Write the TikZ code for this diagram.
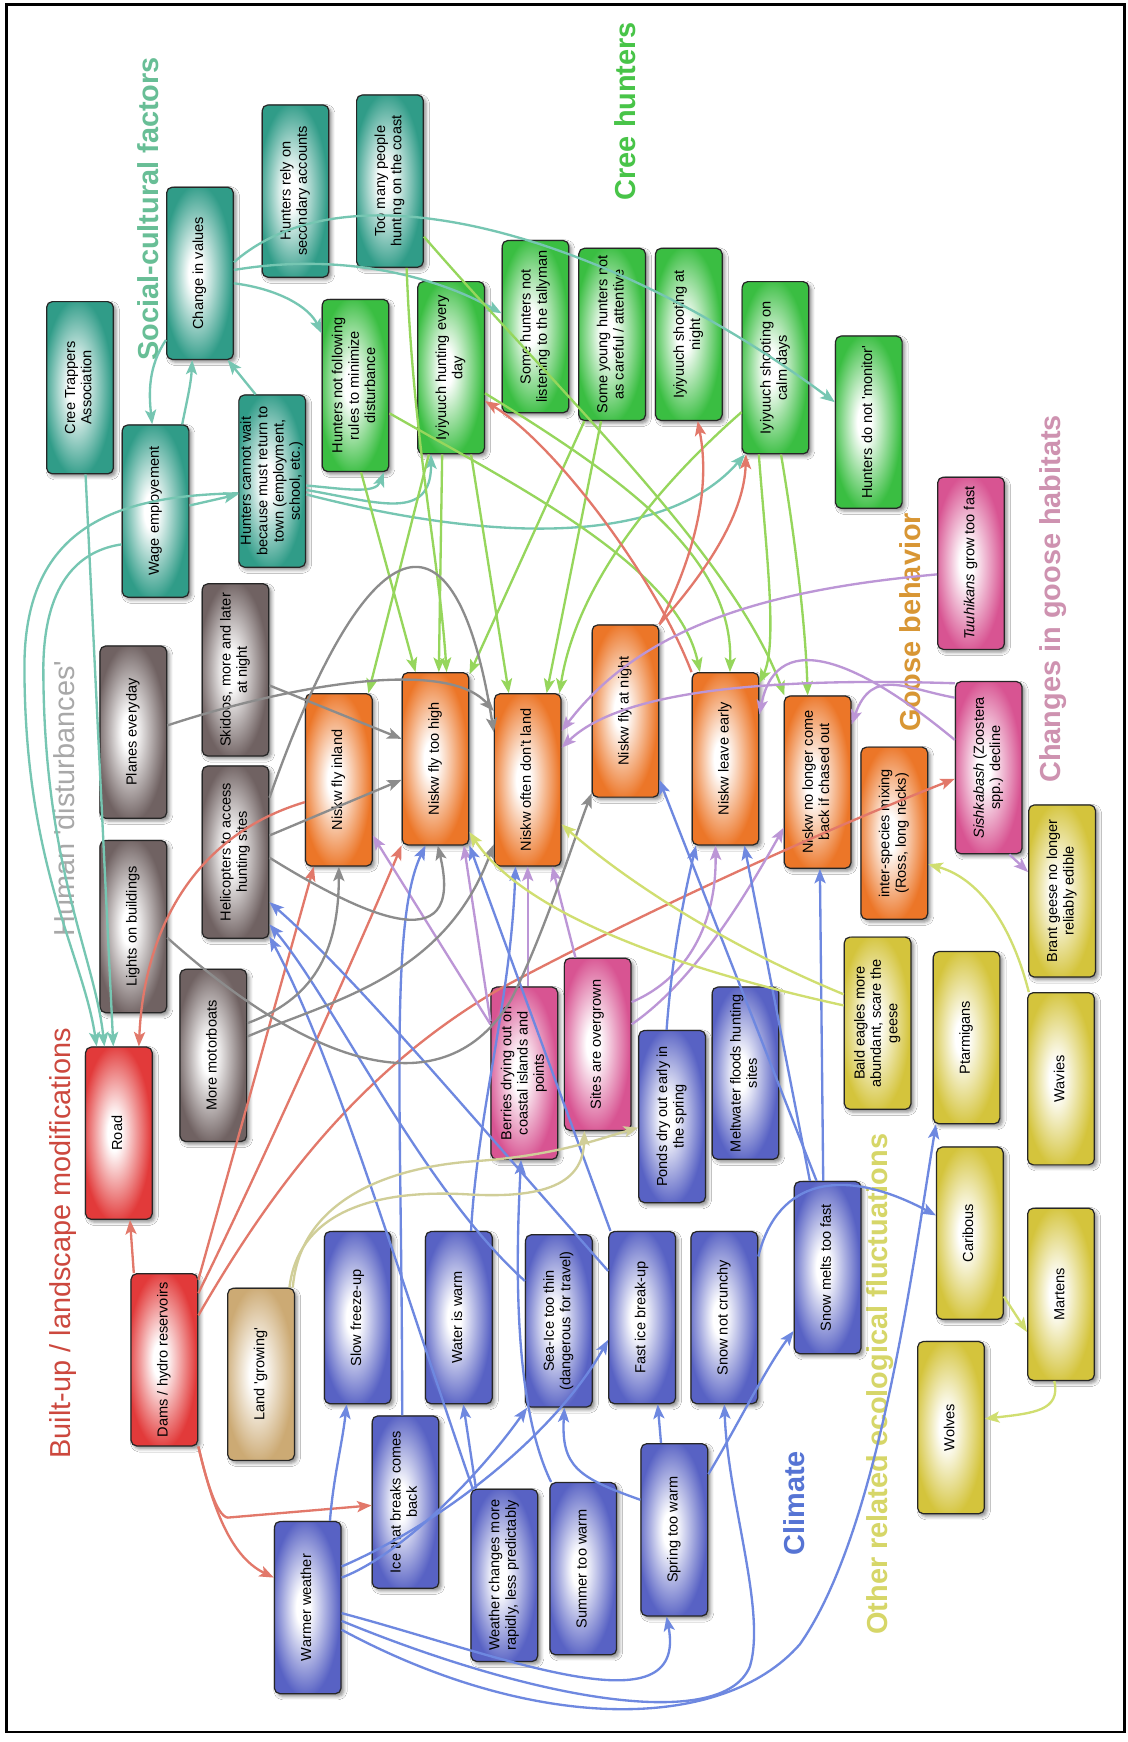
\documentclass[tikz,border=0pt]{standalone}
\usepackage{fontspec}
\setmainfont{Liberation Sans}
\usepackage{graphicx}
\usetikzlibrary{arrows.meta,calc,shadows.blur}

% box fill colours
\definecolor{cTeal}{RGB}{48,156,136}
\definecolor{cGreen}{RGB}{58,190,66}
\definecolor{cGray}{RGB}{112,98,98}
\definecolor{cOrange}{RGB}{236,118,40}
\definecolor{cPink}{RGB}{216,84,146}
\definecolor{cYellow}{RGB}{212,196,60}
\definecolor{cBlue}{RGB}{88,98,196}
\definecolor{cRed}{RGB}{226,58,58}
\definecolor{cTan}{RGB}{204,170,116}
% connector colours
\definecolor{eTeal}{RGB}{118,198,178}
\definecolor{eGreen}{RGB}{150,214,92}
\definecolor{eGray}{RGB}{140,140,140}
\definecolor{eRed}{RGB}{226,120,106}
\definecolor{eBlue}{RGB}{110,136,224}
\definecolor{ePurple}{RGB}{188,150,214}
\definecolor{eYellow}{RGB}{208,222,112}
\definecolor{eTan}{RGB}{208,206,152}
% heading colours
\definecolor{hSoc}{RGB}{104,190,150}
\definecolor{hCree}{RGB}{72,196,72}
\definecolor{hHum}{RGB}{168,168,168}
\definecolor{hBuilt}{RGB}{204,72,62}
\definecolor{hGoose}{RGB}{216,150,52}
\definecolor{hHab}{RGB}{206,146,176}
\definecolor{hClim}{RGB}{86,116,212}
\definecolor{hOther}{RGB}{214,214,104}

\newcommand{\mkshade}[2]{\pgfdeclareradialshading{#1}{\pgfpoint{-4bp}{0bp}}{color(0bp)=(white); color(5bp)=(white); color(26bp)=(#2); color(50bp)=(#2)}}
\mkshade{shTeal}{cTeal}
\mkshade{shGreen}{cGreen}
\mkshade{shGray}{cGray}
\mkshade{shOrange}{cOrange}
\mkshade{shPink}{cPink}
\mkshade{shYellow}{cYellow}
\mkshade{shBlue}{cBlue}
\mkshade{shRed}{cRed}
\mkshade{shTan}{cTan}

\newcommand{\vtxt}[1]{\rotatebox{90}{\begin{tabular}{@{}c@{}}#1\end{tabular}}}
\newcommand{\sq}{\textquotesingle}

\tikzset{
  gbox/.style={draw=black!85, line width=1.1pt, rounded corners=5pt,
    minimum width=60pt, minimum height=155pt, inner sep=0pt,
    font=\fontsize{13.1}{14.7}\selectfont,
    blur shadow={shadow xshift=2.5pt, shadow yshift=-2.5pt, shadow blur radius=3pt, shadow opacity=45}},
  tealbox/.style={gbox, shading=shTeal},
  greenbox/.style={gbox, shading=shGreen},
  graybox/.style={gbox, shading=shGray},
  orangebox/.style={gbox, shading=shOrange},
  pinkbox/.style={gbox, shading=shPink},
  yellowbox/.style={gbox, shading=shYellow},
  bluebox/.style={gbox, shading=shBlue},
  redbox/.style={gbox, shading=shRed},
  tanbox/.style={gbox, shading=shTan},
  head/.style={rotate=90, inner sep=0pt, font=\fontsize{26}{30}\selectfont\bfseries},
  headlight/.style={rotate=90, inner sep=0pt, font=\fontsize{26}{30}\selectfont},
  arr/.style={-{Stealth[length=13pt,width=10pt,inset=3pt]}, line width=2.1pt},
  eT/.style={arr, draw=eTeal},
  eG/.style={arr, draw=eGreen},
  eGr/.style={arr, draw=eGray},
  eR/.style={arr, draw=eRed},
  eB/.style={arr, draw=eBlue},
  eP/.style={arr, draw=ePurple},
  eY/.style={arr, draw=eYellow},
  eL/.style={arr, draw=eTan},
}

\begin{document}
\begin{tikzpicture}[x=1pt, y=-1pt]
\useasboundingbox (0,0) rectangle (1015,1568);
\fill[white] (0,0) rectangle (1015,1568);
\draw[line width=2.6pt] (6,4) rectangle (1012,1559);

% group headings
\node[head, text=hSoc] (hSocial) at (133,188) {Social-cultural factors};
\node[head, text=hCree] (hCreeH) at (563,100) {Cree hunters};
\node[headlight, text=hHum] (hHuman) at (58,719) {Human \sq disturbances\sq};
\node[headlight, text=hBuilt] (hBuiltup) at (57,1119) {Built-up / landscape modifications};
\node[head, text=hGoose] (hGooseB) at (819,560) {Goose behavior};
\node[head, text=hHab] (hHabitat) at (948,539) {Changes in goose habitats};
\node[head, text=hClim] (hClimate) at (715,1353) {Climate};
\node[head, text=hOther] (hOtherE) at (792,1246) {Other related ecological fluctuations};

% social-cultural factors
\node[tealbox] (cta) at (72,349) {\vtxt{Cree Trappers\\Association}};
\node[tealbox] (civ) at (180,246) {\vtxt{Change in values}};
\node[tealbox] (rely) at (266,172) {\vtxt{Hunters rely on\\secondary accounts}};
\node[tealbox] (toomany) at (351,163) {\vtxt{Too many people\\hunting on the coast}};
\node[tealbox] (wage) at (140,460) {\vtxt{Wage employement}};
\node[tealbox] (cannot) at (245,433) {\vtxt{Hunters cannot wait\\because must return to\\town (employment,\\school, etc.)}};

% Cree hunters
\node[greenbox] (notfollow) at (320,347) {\vtxt{Hunters not following\\rules to minimize\\disturbance}};
\node[greenbox] (everyday) at (406,331) {\vtxt{Iyiyuuch hunting every\\day}};
\node[greenbox] (tally) at (482,294) {\vtxt{Some hunters not\\listening to the tallyman}};
\node[greenbox] (young) at (551,301) {\vtxt{Some young hunters not\\as careful / attentive}};
\node[greenbox] (night) at (620,301) {\vtxt{Iyiyuuch shooting at\\night}};
\node[greenbox] (calm) at (698,331) {\vtxt{Iyiyuuch shooting on\\calm days}};
\node[greenbox] (monitor) at (782,380) {\vtxt{Hunters do not \sq monitor\sq}};

% human disturbances
\node[graybox] (planes) at (120,659) {\vtxt{Planes everyday}};
\node[graybox] (skidoo) at (212,603) {\vtxt{Skidoos, more and later\\at night}};
\node[graybox] (heli) at (212,767) {\vtxt{Helicopters to access\\hunting sites}};
\node[graybox] (lights) at (120,834) {\vtxt{Lights on buildings}};
\node[graybox] (motor) at (192,950) {\vtxt{More motorboats}};

% goose behaviour
\node[orangebox] (inland) at (305,702) {\vtxt{Niskw fly inland}};
\node[orangebox] (high) at (392,683) {\vtxt{Niskw fly too high}};
\node[orangebox] (noland) at (475,702) {\vtxt{Niskw often don't land}};
\node[orangebox] (flynight) at (563,640) {\vtxt{Niskw fly at night}};
\node[orangebox] (leave) at (653,683) {\vtxt{Niskw leave early}};
\node[orangebox] (nolonger) at (736,704) {\vtxt{Niskw no longer come\\back if chased out}};
\node[orangebox] (mixing) at (805,750) {\vtxt{inter-species mixing\\(Ross, long necks)}};

% goose habitats
\node[pinkbox] (tuuh) at (874,507) {\vtxt{\textit{Tuuhikans} grow too fast}};
\node[pinkbox] (sish) at (890,691) {\vtxt{\textit{Sishkabash} (Zoostera\\spp.) decline}};
\node[pinkbox] (berries) at (472,966) {\vtxt{Berries drying out on\\coastal islands and\\points}};
\node[pinkbox] (sites) at (538,940) {\vtxt{Sites are overgrown}};

% other ecological fluctuations
\node[yellowbox] (brant) at (956,802) {\vtxt{Brant geese no longer\\reliably edible}};
\node[yellowbox] (eagles) at (790,921) {\vtxt{Bald eagles more\\abundant, scare the\\geese}};
\node[yellowbox] (ptarm) at (870,934) {\vtxt{Ptarmigans}};
\node[yellowbox] (wavies) at (955,971) {\vtxt{Wavies}};
\node[yellowbox] (carib) at (873,1110) {\vtxt{Caribous}};
\node[yellowbox] (martens) at (955,1165) {\vtxt{Martens}};
\node[yellowbox] (wolves) at (856,1285) {\vtxt{Wolves}};

% climate
\node[bluebox] (ponds) at (605,1005) {\vtxt{Ponds dry out early in\\the spring}};
\node[bluebox] (melt) at (671,966) {\vtxt{Meltwater floods hunting\\sites}};
\node[bluebox] (snowfast) at (745,1141) {\vtxt{Snow melts too fast}};
\node[bluebox] (slowfr) at (322,1186) {\vtxt{Slow freeze-up}};
\node[bluebox] (warmwater) at (413,1186) {\vtxt{Water is warm}};
\node[bluebox] (seaice) at (503,1189) {\vtxt{Sea-Ice too thin\\(dangerous for travel)}};
\node[bluebox] (fastice) at (578,1186) {\vtxt{Fast ice break-up}};
\node[bluebox] (crunchy) at (652,1186) {\vtxt{Snow not crunchy}};
\node[bluebox] (icecomes) at (365,1352) {\vtxt{Ice that breaks comes\\back}};
\node[bluebox] (warmer) at (277,1447) {\vtxt{Warmer weather}};
\node[bluebox] (wxchange) at (454,1418) {\vtxt{Weather changes more\\rapidly, less predictably}};
\node[bluebox] (summer) at (525,1412) {\vtxt{Summer too warm}};
\node[bluebox] (spring) at (607,1377) {\vtxt{Spring too warm}};

% built-up / landscape
\node[redbox] (road) at (107,1020) {\vtxt{Road}};
\node[redbox] (dams) at (148,1224) {\vtxt{Dams / hydro reservoirs}};
\node[tanbox] (land) at (235,1237) {\vtxt{Land \sq growing\sq}};

% ---- social-cultural links
\draw[eT] ($(cta.south)+(5,0)$) -- ($(road.north)+(-5,0)$);
\draw[eT] ($(cannot.west)+(0,11)$) .. controls (110,446) and (22,470) .. (22,600) .. controls (22,780) and (75,860) .. ($(road.north)+(-20,0)$);
\draw[eT] ($(wage.west)+(0,30)$) .. controls (75,495) and (40,520) .. (39,600) .. controls (39,780) and (85,860) .. ($(road.north)+(-13,0)$);
\draw[eT] ($(wage.east)+(0,-5)$) -- ($(cannot.west)+(0,12)$);
\draw[eT] ($(civ.west)+(0,60)$) .. controls (133,330) and (134,355) .. ($(wage.north)+(-3,0)$);
\draw[eT] ($(wage.north)+(24,0)$) .. controls (168,362) and (172,345) .. ($(civ.south)+(-7,0)$);
\draw[eT] ($(cannot.north)+(-15,0)$) -- ($(civ.south)+(25,0)$);
\draw[eT] ($(civ.east)+(0,9)$) .. controls (250,260) and (278,276) .. ($(notfollow.west)+(0,-47)$);
\draw[eT] ($(civ.east)+(0,-3)$) .. controls (300,228) and (385,245) .. ($(tally.west)+(0,-12)$);
\draw[eT] ($(civ.east)+(0,-10)$) .. controls (320,140) and (560,220) .. ($(monitor.west)+(0,-18)$);
\draw[eT] ($(cannot.east)+(0,4)$) .. controls (310,440) and (338,445) .. ($(notfollow.south east)+(-5,0)$);
\draw[eT] ($(cannot.east)+(0,8)$) .. controls (340,452) and (388,470) .. ($(everyday.south)+(-18,0)$);
\draw[eT] ($(cannot.east)+(0,12)$) .. controls (450,490) and (600,490) .. ($(calm.south west)+(3,0)$);

% ---- hunters to goose behaviour
\draw[eG] ($(notfollow.south)+(5,0)$) -- ($(high.north)+(-18,0)$);
\draw[eG] ($(everyday.south)+(-8,0)$) -- ($(high.north)+(3,0)$);
\draw[eG] ($(toomany.south)+(15,0)$) .. controls (372,400) and (395,500) .. ($(high.north)+(10,0)$);
\draw[eG] ($(young.south)+(-25,0)$) -- ($(high.north east)+(0,2)$);
\draw[eG] ($(everyday.south)+(-20,0)$) -- ($(inland.north east)+(-4,0)$);
\draw[eG] ($(everyday.south)+(18,0)$) -- ($(noland.north)+(-17,0)$);
\draw[eG] ($(young.south)+(-10,0)$) -- ($(noland.north)+(17,0)$);
\draw[eG] ($(calm.west)+(0,40)$) .. controls (600,430) and (520,520) .. ($(noland.north east)+(-2,0)$);
\draw[eG] ($(notfollow.east)+(0,25)$) .. controls (470,440) and (610,510) .. ($(leave.north)+(-23,0)$);
\draw[eG] ($(everyday.east)+(0,23)$) .. controls (560,430) and (660,500) .. ($(leave.north)+(4,0)$);
\draw[eG] ($(calm.south)+(-15,0)$) .. controls (690,500) and (700,580) .. ($(leave.north east)+(0,10)$);
\draw[eG] ($(calm.south)+(5,0)$) .. controls (715,480) and (725,560) .. ($(nolonger.north)+(-9,0)$);
\draw[eG] ($(toomany.east)+(0,50)$) .. controls (500,350) and (660,500) .. ($(nolonger.north)+(-30,0)$);

% ---- built-up / landscape links and feedbacks
\draw[eR] ($(dams.north west)+(3,0)$) -- ($(road.south)+(10,0)$);
\draw[eR] (dams.south east) .. controls (190,1350) and (205,1400) .. ($(warmer.west)+(0,-27)$);
\draw[eR] (dams.south east) .. controls (185,1330) and (195,1365) .. (205,1366) -- ($(icecomes.west)+(0,3)$);
\draw[eR] ($(dams.north east)+(0,6)$) -- ($(inland.south west)+(8,0)$);
\draw[eR] ($(dams.east)+(0,-60)$) .. controls (230,1060) and (320,860) .. (high.south west);
\draw[eR] ($(dams.east)+(0,-40)$) .. controls (250,1060) and (330,960) .. (450,890) .. controls (600,810) and (760,740) .. ($(sish.west)+(0,10)$);
\draw[eR] ($(inland.west)+(0,20)$) .. controls (180,750) and (130,830) .. ($(road.north)+(18,0)$);
\draw[eR] (leave.north west) .. controls (590,520) and (500,400) .. ($(everyday.east)+(0,30)$);
\draw[eR] (flynight.north east) .. controls (625,500) and (640,440) .. ($(night.south)+(8,0)$);
\draw[eR] (flynight.north east) .. controls (640,510) and (670,460) .. ($(calm.south west)+(4,0)$);

% ---- goose habitats
\draw[eP] ($(tuuh.west)+(0,10)$) .. controls (700,530) and (580,560) .. ($(noland.east)+(0,-44)$);
\draw[eP] ($(sish.west)+(0,-76)$) .. controls (700,610) and (560,620) .. ($(noland.east)+(0,-29)$);
\draw[eP] ($(sish.west)+(0,-25)$) .. controls (780,600) and (700,560) .. ($(leave.east)+(0,-40)$);
\draw[eP] ($(sish.west)+(0,-63)$) .. controls (815,620) and (785,600) .. ($(nolonger.east)+(0,-52)$);
\draw[eP] ($(sish.south east)+(-12,0)$) -- ($(brant.west)+(0,-17)$);
\draw[eP] ($(berries.north)+(3,0)$) -- (noland.south);
\draw[eP] ($(berries.west)+(0,-47)$) -- ($(high.south east)+(-5,0)$);
\draw[eP] ($(berries.west)+(0,-44)$) -- ($(inland.east)+(0,50)$);
\draw[eP] ($(sites.north)+(-20,0)$) -- ($(noland.south)+(22,0)$);
\draw[eP] ($(sites.east)+(0,-38)$) .. controls (620,880) and (645,830) .. ($(leave.south)+(-9,0)$);
\draw[eP] ($(sites.east)+(0,-18)$) .. controls (630,880) and (680,790) .. ($(nolonger.west)+(0,41)$);

% ---- climate
\draw[eB] ($(warmer.north)+(20,0)$) .. controls (300,1330) and (308,1300) .. ($(slowfr.south)+(-10,0)$);
\draw[eB] ($(warmer.east)+(0,-27)$) .. controls (360,1400) and (430,1330) .. ($(seaice.south west)+(2,0)$);
\draw[eB] ($(warmer.east)+(0,-37)$) .. controls (400,1370) and (500,1290) .. ($(fastice.west)+(0,20)$);
\draw[eB] ($(warmer.east)+(0,5)$) .. controls (450,1490) and (620,1560) .. ($(spring.south)+(-7,0)$);
\draw[eB] ($(warmer.east)+(0,12)$) .. controls (480,1530) and (650,1560) .. (675,1500) .. controls (690,1450) and (655,1350) .. (crunchy.south);
\draw[eB] ($(warmer.east)+(0,20)$) .. controls (480,1560) and (650,1560) .. (720,1480) .. controls (790,1380) and (820,1150) .. ($(ptarm.south west)+(3,0)$);
\draw[eB] ($(spring.north)+(-12,0)$) -- ($(fastice.south)+(14,0)$);
\draw[eB] ($(spring.west)+(0,-27)$) .. controls (520,1330) and (505,1320) .. ($(seaice.south)+(5,0)$);
\draw[eB] ($(spring.east)+(0,-50)$) .. controls (660,1290) and (690,1230) .. ($(snowfast.west)+(0,57)$);
\draw[eB] ($(crunchy.east)+(0,-55)$) .. controls (700,1060) and (760,1050) .. ($(carib.west)+(0,-16)$);
\draw[eB] ($(snowfast.north)+(-16,0)$) -- ($(leave.south)+(17,0)$);
\draw[eB] ($(snowfast.north)+(-10,0)$) -- ($(flynight.east)+(0,62)$);
\draw[eB] ($(snowfast.north)+(-4,0)$) -- ($(nolonger.south)+(2,0)$);
\draw[eB] ($(ponds.north)+(-5,0)$) .. controls (605,860) and (615,810) .. ($(leave.south west)+(4,0)$);
\draw[eB] ($(icecomes.north)+(-3,0)$) .. controls (362,1000) and (350,830) .. ($(high.south)+(-9,0)$);
\draw[eB] ($(warmwater.north)+(11,0)$) .. controls (430,1000) and (460,900) .. ($(noland.south)+(-11,0)$);
\draw[eB] ($(fastice.north west)+(2,0)$) -- (high.south east);
\draw[eB] ($(seaice.west)+(0,-36)$) .. controls (380,1070) and (300,900) .. ($(heli.east)+(0,65)$);
\draw[eB] ($(fastice.west)+(0,-42)$) .. controls (420,1000) and (320,880) .. ($(heli.east)+(0,45)$);
\draw[eB] ($(wxchange.north west)+(2,0)$) .. controls (360,1150) and (300,950) .. ($(heli.east)+(0,76)$);
\draw[eB] ($(wxchange.north west)+(5,0)$) -- ($(warmwater.south)+(4,0)$);
\draw[eB] ($(summer.north)+(-29,0)$) .. controls (460,1260) and (465,1120) .. ($(berries.south)+(-3,0)$);

% ---- human disturbances
\draw[eGr] ($(planes.east)+(0,-6)$) .. controls (250,620) and (400,590) .. ($(noland.west)+(0,-62)$);
\draw[eGr] ($(skidoo.east)+(0,14)$) -- ($(high.west)+(0,-18)$);
\draw[eGr] ($(heli.east)+(0,-15)$) -- ($(high.west)+(0,19)$);
\draw[eGr] ($(heli.east)+(0,-49)$) .. controls (330,470) and (410,440) .. ($(noland.west)+(0,-43)$);
\draw[eGr] ($(motor.east)+(0,-29)$) .. controls (280,900) and (305,860) .. (inland.south);
\draw[eGr] ($(motor.east)+(0,-17)$) .. controls (300,900) and (400,880) .. ($(noland.south west)+(0,-20)$);
\draw[eGr] ($(heli.east)+(0,5)$) .. controls (320,820) and (420,870) .. ($(high.south)+(2,0)$);
\draw[eGr] ($(lights.east)+(0,10)$) .. controls (280,960) and (400,1000) .. (460,900) .. controls (490,840) and (515,760) .. ($(flynight.south west)+(0,-4)$);

% ---- other ecological fluctuations
\draw[eY] ($(eagles.west)+(0,-16)$) .. controls (600,870) and (470,820) .. ($(high.east)+(0,66)$);
\draw[eY] ($(eagles.west)+(0,-26)$) .. controls (650,850) and (560,790) .. ($(noland.east)+(0,40)$);
\draw[eY] ($(wavies.north)+(-29,0)$) .. controls (910,830) and (880,790) .. ($(mixing.east)+(0,28)$);
\draw[eY] ($(carib.east)+(0,57)$) -- ($(martens.west)+(0,34)$);
\draw[eY] ($(martens.south)+(-6,0)$) .. controls (955,1270) and (930,1272) .. ($(wolves.east)+(0,-8)$);

% ---- land uplift
\draw[eL] ($(land.north east)+(-2,0)$) .. controls (270,1080) and (350,1050) .. (430,1045) .. controls (500,1040) and (540,1025) .. ($(ponds.west)+(0,10)$);
\draw[eL] ($(land.north east)+(-5,0)$) .. controls (268,1095) and (330,1070) .. (420,1075) .. controls (500,1080) and (525,1060) .. ($(sites.south)+(-12,0)$);
\end{tikzpicture}
\end{document}
